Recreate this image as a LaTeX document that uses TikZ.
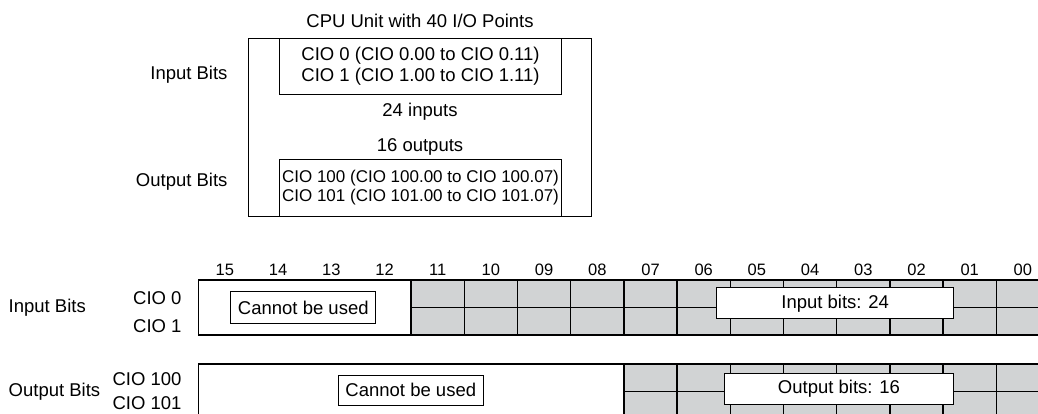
\documentclass[tikz,border=0pt]{standalone}
\usepackage{fontspec}
\setmainfont{Liberation Sans}
\usepackage{tikz}
\usetikzlibrary{positioning,calc}
\definecolor{cellgray}{RGB}{209,211,212}
\newcommand{\colw}{53.2}
\newcommand{\gridx}{198.3}

\begin{document}
\begin{tikzpicture}[x=1pt,y=-1pt,
  txt/.style={font=\fontsize{18.5}{20.7}\selectfont,inner sep=0pt},
  hdr/.style={font=\fontsize{16.5}{18}\selectfont,inner sep=0pt,anchor=base},
  tag/.style={txt,draw,fill=white,line width=1pt},
  gridline/.style={line width=1.3pt}]
\useasboundingbox (0,0) rectangle (1038,414);
\clip (0,0) rectangle (1038,414);

\node[txt,anchor=base] (title) at (420,28) {CPU Unit with 40 I/O Points};
\node[draw,line width=1pt,inner sep=0pt,minimum width=343.4pt,
      minimum height=178.2pt] (cpu) at (420,127.4) {};
\node[txt,draw,line width=1pt,align=center,minimum width=282.4pt,
      minimum height=56pt] (inwords) at (420.5,66.3)
      {CIO 0 (CIO 0.00 to CIO 0.11)\\CIO 1 (CIO 1.00 to CIO 1.11)};
\node[draw,line width=1pt,inner sep=0pt,align=center,minimum width=282.4pt,
      minimum height=57.2pt,font=\fontsize{17}{19.4}\selectfont] (outwords) at (420.5,187.9)
      {CIO 100 (CIO 100.00 to CIO 100.07)\\CIO 101 (CIO 101.00 to CIO 101.07)};
\node[txt,anchor=base] (ninputs) at (420,116.7) {24 inputs};
\node[txt,anchor=base] (noutputs) at (420,151.7) {16 outputs};
\node[txt,anchor=base east] (inlabel) at (227.7,80) {Input Bits};
\node[txt,anchor=base east] (outlabel) at (227.7,186.7) {Output Bits};

\foreach \lbl [count=\k from 0] in {15,14,13,12,11,10,09,08,07,06,05,04,03,02,01,00}
  \node[hdr] (bit\lbl) at ({\gridx+\colw*(\k+0.5)},275) {\lbl};

\fill[cellgray] ({\gridx+4*\colw},280) rectangle ({\gridx+16*\colw},335);
\foreach \k in {4,...,15}
  \draw[gridline] ({\gridx+\colw*\k},280) -- ++(0,55);
\draw[gridline] ({\gridx+4*\colw},307.5) -- ({\gridx+16*\colw},307.5);
\draw[gridline] (\gridx,280) rectangle ({\gridx+16*\colw},335);

\fill[cellgray] ({\gridx+8*\colw},364) rectangle ({\gridx+16*\colw},419.5);
\foreach \k in {8,...,15}
  \draw[gridline] ({\gridx+\colw*\k},364) -- ++(0,55.5);
\draw[gridline] ({\gridx+8*\colw},391.7) -- ({\gridx+16*\colw},391.7);
\draw[gridline] (\gridx,364) rectangle ({\gridx+16*\colw},419.5);

\node[tag,minimum width=145.3pt,minimum height=31.6pt] (inunused) at (303.3,307.5) {Cannot be used};
\node[tag,minimum width=237pt,minimum height=31.3pt] (inused) at (835.2,303.3) {Input bits: 24};
\node[tag,minimum width=145pt,minimum height=30pt] (outunused) at (410.8,390) {Cannot be used};
\node[tag,minimum width=229.4pt,minimum height=30.7pt] (outused) at (839,388.7) {Output bits: 16};

\node[txt,anchor=base west] (rowinlabel) at (8.5,312.3) {Input Bits};
\node[txt,anchor=base east] (cio0) at (181.7,304) {CIO 0};
\node[txt,anchor=base east] (cio1) at (181.7,332.7) {CIO 1};
\node[txt,anchor=base west] (rowoutlabel) at (8.5,396.7) {Output Bits};
\node[txt,anchor=base east] (cio100) at (181.7,385.7) {CIO 100};
\node[txt,anchor=base east] (cio101) at (181.7,409.5) {CIO 101};
\end{tikzpicture}
\end{document}
